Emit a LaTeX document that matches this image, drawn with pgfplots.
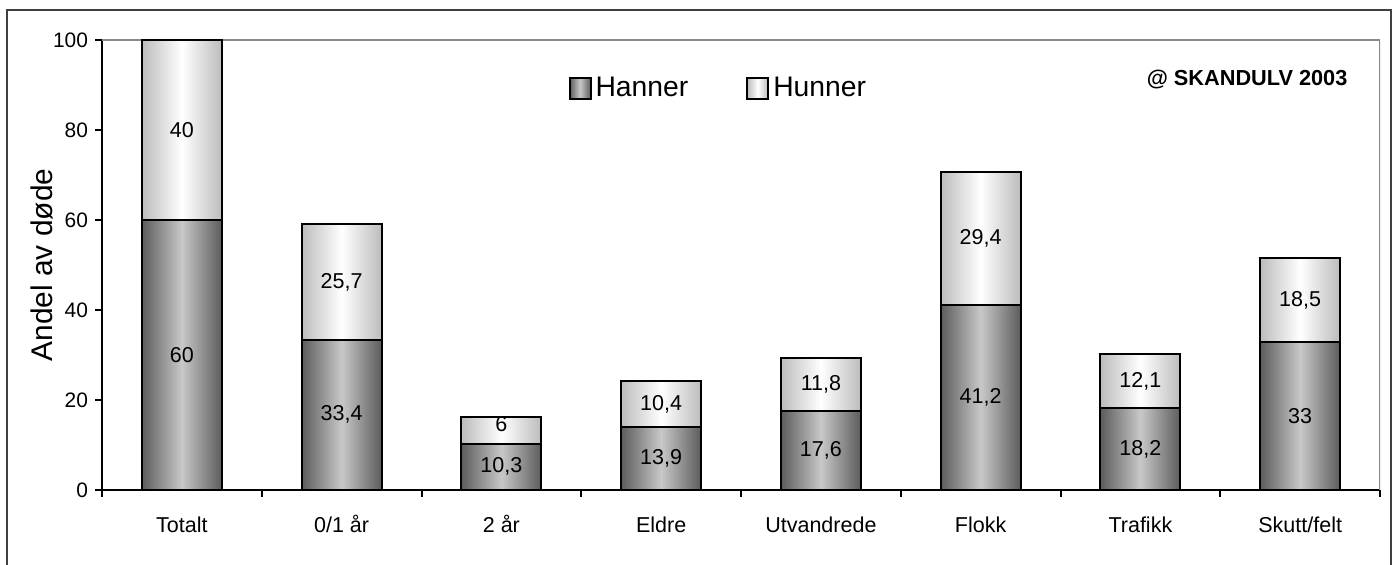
\documentclass[border=0pt]{standalone}
\usepackage{fontspec}
\setmainfont{Liberation Sans}
\usepackage{pgfplots}
\usepackage{pgfplotstable}
\pgfplotsset{compat=1.18}
\definecolor{hanedge}{HTML}{5C5C5C}
\definecolor{hanmid}{HTML}{C8C8C8}
\definecolor{hunedge}{HTML}{BCBCBC}
\definecolor{frame}{HTML}{8A8A8A}
\pgfplotstableread{
x y label
0 30 60
0 80 40
1 16.7 33,4
1 46.25 25,7
2 5.15 10,3
2 14.6 6
3 6.95 13,9
3 19.1 10,4
4 8.8 17,6
4 23.5 11,8
5 20.6 41,2
5 55.9 29,4
6 9.1 18,2
6 24.25 12,1
7 16.5 33
7 42.25 18,5
}\labeltable
\pgfplotsset{
  han/.style={ybar, bar shift=0pt, bar width=40bp, draw=black, line width=1bp,
    left color=hanedge, right color=hanedge, middle color=hanmid},
  hun/.style={ybar, bar shift=0pt, bar width=40bp, draw=black, line width=1bp,
    left color=hunedge, right color=hunedge, middle color=white},
}
\begin{document}
\begin{tikzpicture}[x=1bp,y=1bp]
\useasboundingbox (0,0) rectangle (697,282);
\draw[line width=0.7bp, black!75] (3.5,-5) -- (3.5,277) -- (695.5,277) -- (695.5,-5);
\begin{axis}[
  at={(51bp,37bp)}, anchor=south west,
  scale only axis, width=639bp, height=225bp,
  xmin=-0.5, xmax=7.5, ymin=0, ymax=100,
  axis lines*=left,
  axis line style={line width=1bp, black},
  tick align=outside,
  major tick length=3.5bp,
  xtick={0,...,7},
  xticklabels={Totalt,0/1 år,2 år,Eldre,Utvandrede,Flokk,Trafikk,Skutt/felt},
  x tick style={draw=none},
  extra x ticks={-0.5,0.5,...,7.5},
  extra x tick labels={},
  extra x tick style={x tick style={draw=black, line width=1bp}},
  ytick={0,20,...,100},
  y tick style={draw=black, line width=1bp},
  xticklabel style={font=\fontsize{10.8}{12}\selectfont, anchor=base, yshift=-17.8bp},
  yticklabel style={font=\fontsize{10.5}{12}\selectfont},
  /pgf/number format/assume math mode=true,
  ylabel={Andel av døde},
  ylabel style={font=\fontsize{15}{17}\selectfont, at={(axis description cs:-0.047,0.5)}, anchor=center},
  legend style={at={(0.483,0.893)}, anchor=center, draw=none, fill=none,
    font=\fontsize{14.2}{16}\selectfont,
    /tikz/every even column/.append style={column sep=27bp}},
  legend columns=2,
  legend image code/.code={\draw[#1] (0bp,-5.25bp) rectangle (10.5bp,5.25bp);},
]
\draw[frame, line width=1.2bp] (rel axis cs:0,1) -- (rel axis cs:1,1) -- (rel axis cs:1,0);
\addlegendimage{han}\addlegendentry{Hanner}
\addlegendimage{hun}\addlegendentry{Hunner}
% Totalt: Hanner 60, Hunner 40
\addplot[hun, forget plot] coordinates {(0,100)};
\addplot[han, forget plot] coordinates {(0,60)};
% 0/1 år: 33.4 + 25.7
\addplot[hun, forget plot] coordinates {(1,59.1)};
\addplot[han, forget plot] coordinates {(1,33.4)};
% 2 år: 10.3 + 6
\addplot[hun, forget plot] coordinates {(2,16.3)};
\addplot[han, forget plot] coordinates {(2,10.3)};
% Eldre: 13.9 + 10.4
\addplot[hun, forget plot] coordinates {(3,24.3)};
\addplot[han, forget plot] coordinates {(3,13.9)};
% Utvandrede: 17.6 + 11.8
\addplot[hun, forget plot] coordinates {(4,29.4)};
\addplot[han, forget plot] coordinates {(4,17.6)};
% Flokk: 41.2 + 29.4
\addplot[hun, forget plot] coordinates {(5,70.6)};
\addplot[han, forget plot] coordinates {(5,41.2)};
% Trafikk: 18.2 + 12.1
\addplot[hun, forget plot] coordinates {(6,30.3)};
\addplot[han, forget plot] coordinates {(6,18.2)};
% Skutt/felt: 33 + 18.5
\addplot[hun, forget plot] coordinates {(7,51.5)};
\addplot[han, forget plot] coordinates {(7,33)};
\node[font=\bfseries\fontsize{10.9}{13}\selectfont] at (axis description cs:0.896,0.912) {@ SKANDULV 2003};
\end{axis}
\begin{axis}[
  at={(51bp,37bp)}, anchor=south west,
  scale only axis, width=639bp, height=225bp,
  xmin=-0.5, xmax=7.5, ymin=0, ymax=100,
  hide axis,
]
\addplot[draw=none, mark=none, nodes near coords, point meta=explicit symbolic,
  every node near coord/.append style={anchor=center, font=\fontsize{10.8}{12}\selectfont, text=black}]
  table[x=x, y=y, meta=label] {\labeltable};
\end{axis}
\end{tikzpicture}
\end{document}
